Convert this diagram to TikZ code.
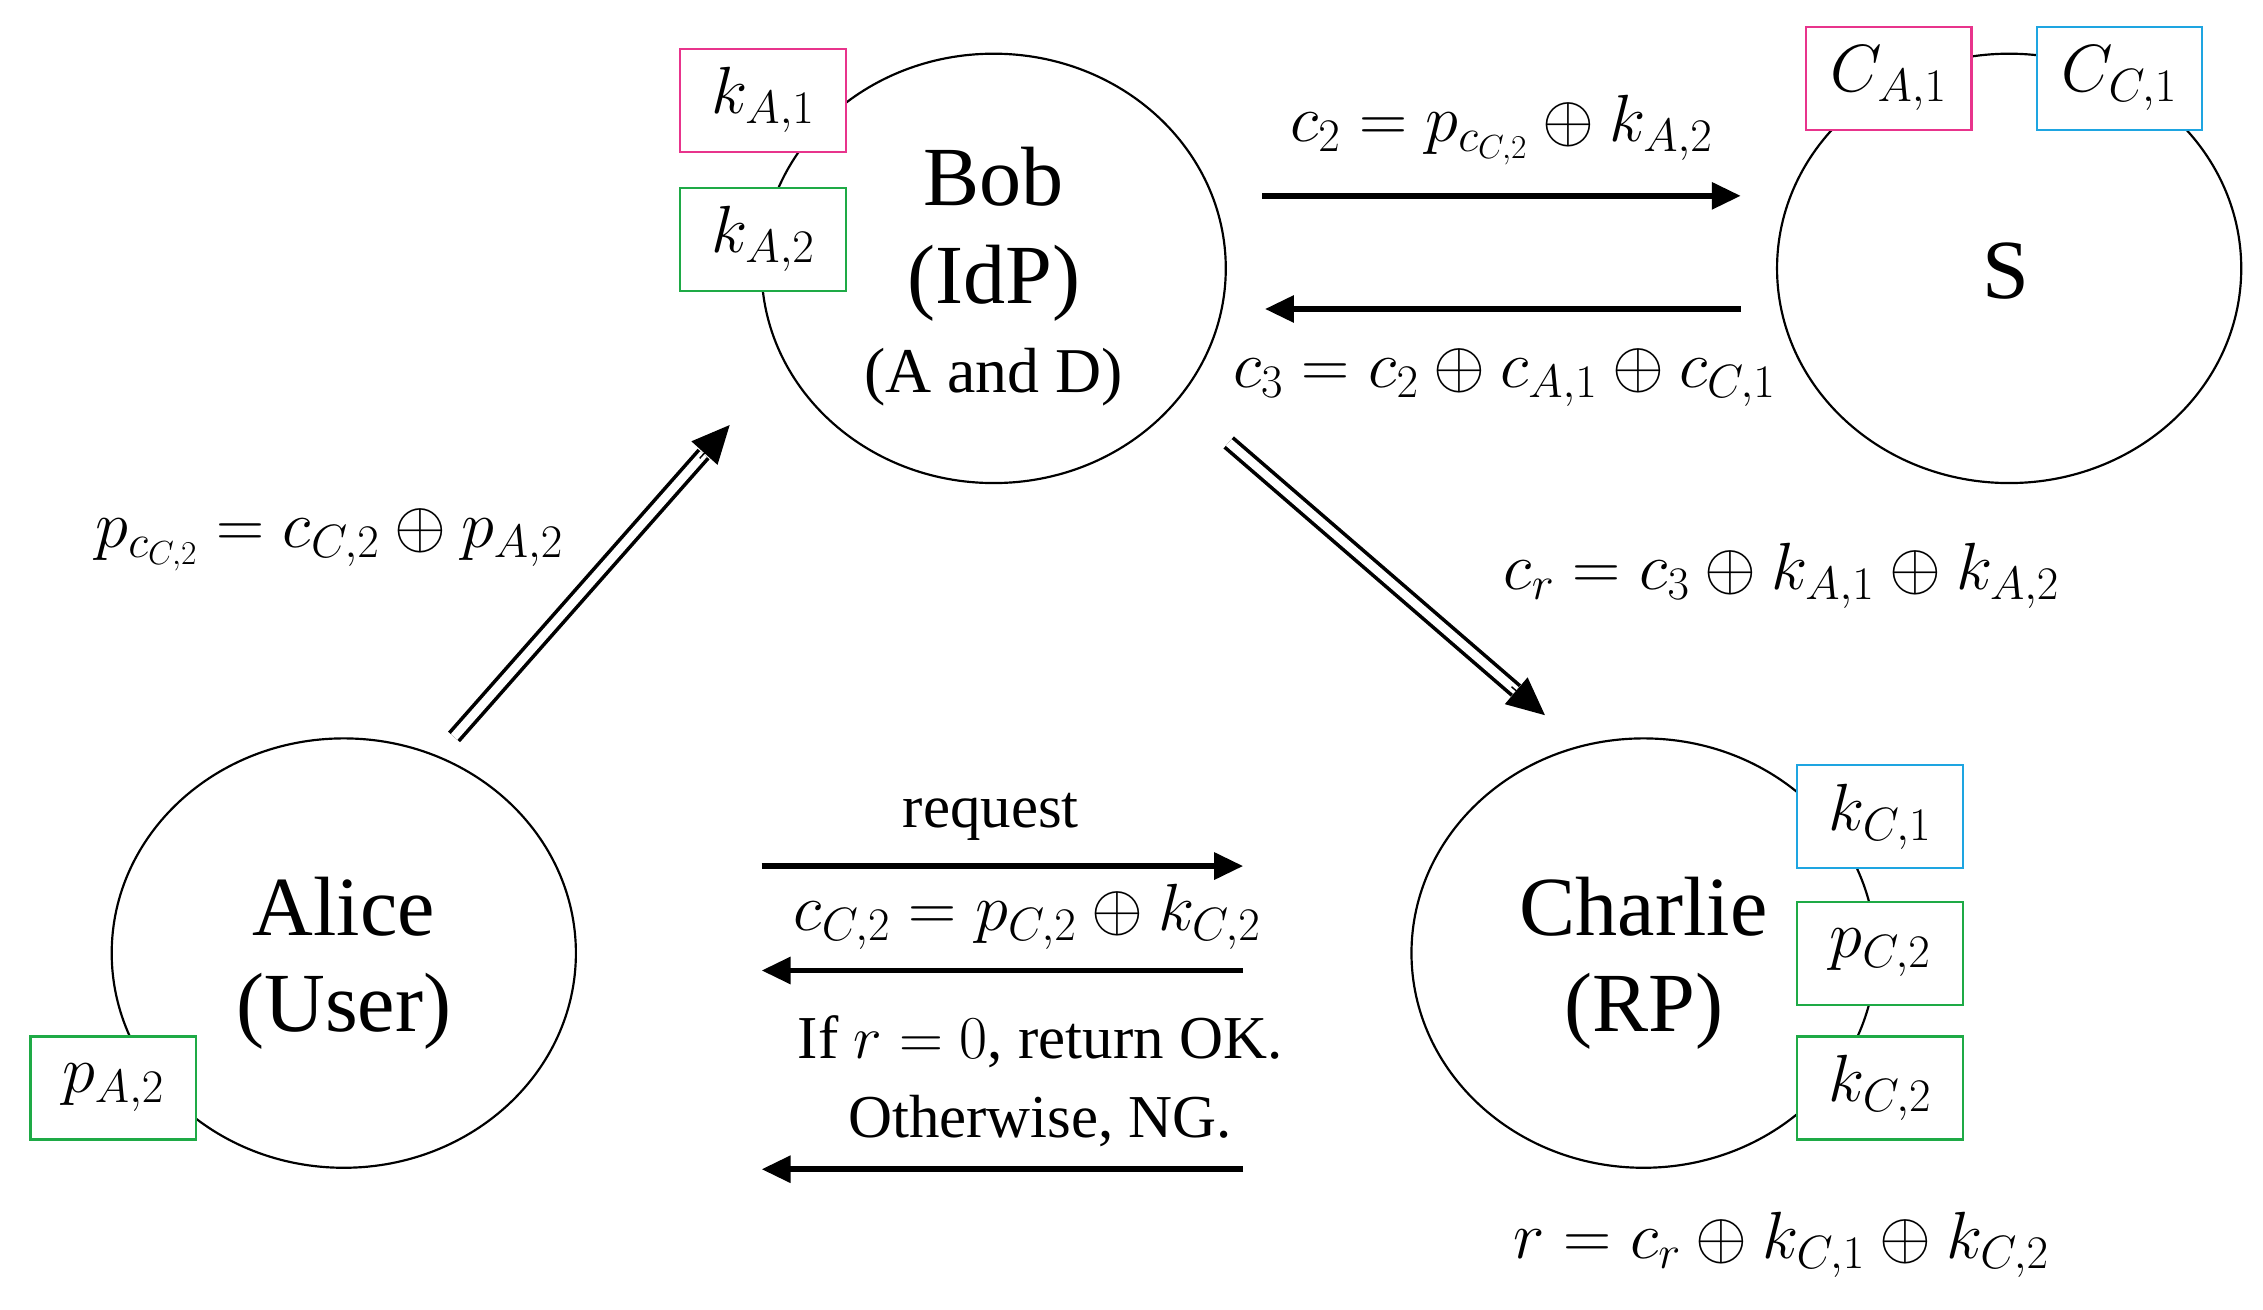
\RequirePackage{fix-cm}
\documentclass[tikz,border=0pt]{standalone}
\usepackage{fontspec}
\setmainfont{Liberation Serif}
\usetikzlibrary{arrows.meta,calc,shapes.geometric}
\definecolor{mag}{RGB}{232,52,140}
\definecolor{grn}{RGB}{30,170,70}
\definecolor{cyn}{RGB}{30,165,225}
\begin{document}
\begin{tikzpicture}[x=1pt,y=-1pt,
  circ/.style={draw,line width=1.5pt,ellipse,minimum width=320pt,minimum height=296pt},
  bx/.style={draw,line width=1.5pt,fill=white,minimum width=114pt,minimum height=71pt,inner sep=0pt,font=\fontsize{46}{52}\selectfont},
  big/.style={font=\fontsize{58}{62}\selectfont},
  lab/.style={font=\fontsize{46}{52}\selectfont},
  tlab/.style={font=\fontsize{42}{48}\selectfont},
  arr/.style={line width=4pt,-{Triangle[length=20pt,width=18pt]}},
  dbl/.style={line width=2.5pt,double,double distance=6pt}]
\useasboundingbox (0,0) rectangle (1560,903);
\node[circ] (bob) at (685,185) {};
\node[circ] (s) at (1385,185) {};
\node[circ] (alice) at (237,657) {};
\node[circ] (charlie) at (1133,657) {};
\node[big] (bobt) at (685,122) {Bob};
\node[big] (idp) at (685,195) {(IdP)};
\node[font=\fontsize{44}{50}\selectfont] (ad) at (685,260) {(A and D)};
\node[big] (st) at (1383,187) {S};
\node[big] (al) at (237,625) {Alice};
\node[big] (us) at (237,697) {(User)};
\node[big] (ch) at (1133,625) {Charlie};
\node[big] (rp) at (1133,697) {(RP)};
\node[bx,draw=mag] (ka1) at (526,69) {$k_{A,1}$};
\node[bx,draw=grn] (ka2) at (526,165) {$k_{A,2}$};
\node[bx,draw=mag] (ca1) at (1302,54) {$C_{A,1}$};
\node[bx,draw=cyn] (cc1) at (1461,54) {$C_{C,1}$};
\node[bx,draw=cyn] (kc1) at (1296,563) {$k_{C,1}$};
\node[bx,draw=grn] (pc2) at (1296,657) {$p_{C,2}$};
\node[bx,draw=grn] (kc2) at (1296,750) {$k_{C,2}$};
\node[bx,draw=grn] (pa2) at (78,750) {$p_{A,2}$};
\coordinate (a1) at (870,135); \coordinate (a2) at (1200,135);
\coordinate (b1) at (1200,213); \coordinate (b2) at (872,213);
\coordinate (r1) at (525,597); \coordinate (r2) at (857,597);
\coordinate (c1) at (857,669); \coordinate (c2) at (525,669);
\coordinate (d1) at (857,806); \coordinate (d2) at (525,806);
\draw[arr] (a1) -- (a2);
\draw[arr] (b1) -- (b2);
\draw[arr] (r1) -- (r2);
\draw[arr] (c1) -- (c2);
\draw[arr] (d1) -- (d2);
\coordinate (u1) at (313,508); \coordinate (u2) at (485,313); \coordinate (u3) at (503,293);
\coordinate (v1) at (847,305); \coordinate (v2) at (1045,476); \coordinate (v3) at (1065,493);
\draw[dbl] (u1) -- (u2);
\draw[dbl] (v1) -- (v2);
\draw[-{Triangle[length=26pt,width=24pt]},line width=1pt] ($(u2)!-4pt!(u3)$) -- (u3);
\draw[-{Triangle[length=26pt,width=24pt]},line width=1pt] ($(v2)!-4pt!(v3)$) -- (v3);
\node[lab] (l1) at (1035,90) {$c_2=p_{c_{C,2}}\oplus k_{A,2}$};
\node[lab] (l2) at (1037,260) {$c_3=c_2\oplus c_{A,1}\oplus c_{C,1}$};
\node[lab] (l3) at (227,372) {$p_{c_{C,2}}=c_{C,2}\oplus p_{A,2}$};
\node[lab] (l4) at (1228,397) {$c_r=c_3\oplus k_{A,1}\oplus k_{A,2}$};
\node[tlab] (l5) at (683,563) {request};
\node[lab] (l6) at (708,632) {$c_{C,2}=p_{C,2}\oplus k_{C,2}$};
\node[tlab] (l7) at (717,718) {If $r=0$, return OK.};
\node[tlab] (l8) at (717,773) {Otherwise, NG.};
\node[lab] (l9) at (1228,858) {$r=c_r\oplus k_{C,1}\oplus k_{C,2}$};
\end{tikzpicture}
\end{document}
